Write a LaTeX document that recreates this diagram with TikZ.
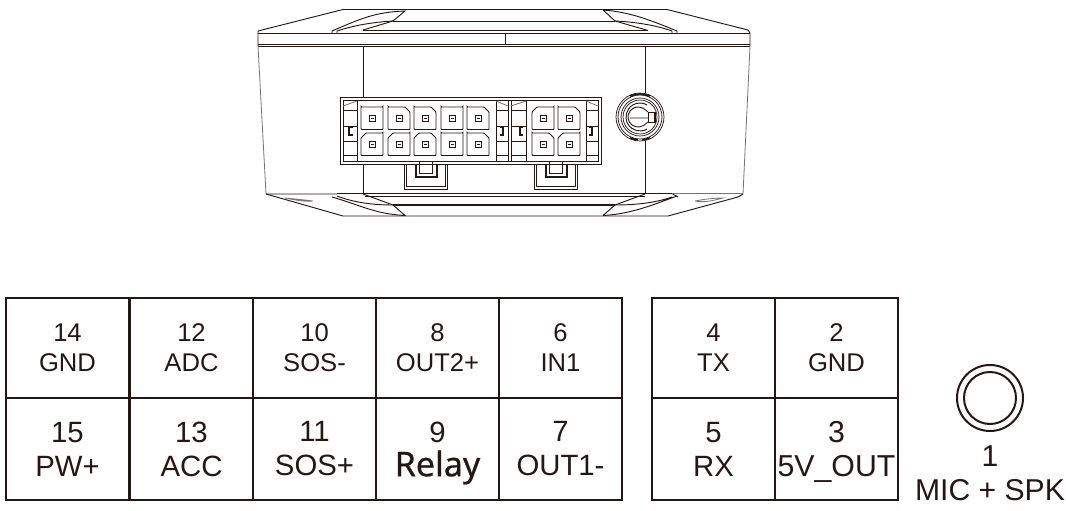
\documentclass[tikz,border=0pt]{standalone}
\usepackage{fontspec}
\setmainfont{Liberation Sans}
\newfontfamily\relayfont[RawFeature={embolden=.6}]{Noto Sans}
\usetikzlibrary{positioning}
\definecolor{inkdark}{HTML}{231815}
\tikzset{
  pincell/.style={draw=inkdark,text=inkdark,line width=2.2pt,minimum width=92.25pt,inner sep=0pt,outer sep=0pt,anchor=north west},
  toptext/.style={minimum height=75pt,font=\fontsize{19.2}{22.5}\selectfont,align=center},
  lowtext/.style={minimum height=76.5pt,font=\fontsize{22}{25.5}\selectfont,align=center},
  body/.style={line width=.7pt,inkdark},
  thin gray/.style={line width=.6pt,black!55},
  pinhole/.style={line width=.7pt,inkdark,rounded corners=.5pt}
}
% one pin of the connector: x, y and the corners that are cut
\newcommand{\pinbox}[4]{%
  \draw[pinhole] (#1+#3,#2) -- (#1+22-#4,#2) -- (#1+22,#2+#4) -- (#1+22,#2+22.5) -- (#1,#2+22.5) -- (#1,#2+#3) -- cycle;
  \draw[line width=.6pt,inkdark] (#1+8,#2+8) rectangle (#1+14,#2+14.5) (#1+9.5,#2+11.2) -- (#1+12.5,#2+11.2);
}
\begin{document}
\begin{tikzpicture}[x=.75pt,y=-.75pt]
  \useasboundingbox (0,0) rectangle (1066,510);
  % housing
  \draw[body] (258,33) -- (750,33) (258,44.3) -- (750,44.3) (258,46.3) -- (750,46.3);
  \draw[body] (258,46) -- (258,31) -- (343,9.5) -- (667,9.5) -- (748,30) -- (750,33) -- (750,46);
  \draw[thin gray] (258,46) -- (266,194) (750,46) -- (743,194);
  \draw[body] (266,194) -- (343,216) -- (668,216) -- (738,197) -- (743,194);
  \draw[body] (393,21) -- (615,21) (363,30.5) -- (648,30.5) (505,33) -- (505,45);
  % upper grips
  \draw[body] (332,31) .. controls (360,19) and (375,12) .. (405,11) -- (393,21) .. controls (375,22) and (355,25) .. (337,31);
  \draw[body] (363,30) -- (393,21) (332,31) -- (332,33) (337,31) -- (337,33);
  \draw[body] (603,10) .. controls (630,12) and (650,20) .. (677,31) (603,10) -- (615,21) .. controls (635,22) and (655,25) .. (672,31);
  \draw[body] (615,21) -- (648,30.5) (672,31) -- (672,33) (677,31) -- (677,33);
  % lower grips
  \draw[body] (332,197) .. controls (360,205) and (375,214) .. (405,215.5) -- (393,205) .. controls (375,205) and (355,203) .. (337,196);
  \draw[body] (363,194) -- (393,205);
  \draw[body] (603,215.5) .. controls (630,214) and (650,206) .. (677,196) (603,215.5) -- (615,205) .. controls (635,205) and (655,203) .. (672,197);
  \draw[body] (615,205) -- (645,194);
  \draw[body] (337,193.5) -- (672,193.5) (365,196.5) -- (645,196.5) (672,193.5) -- (678,197) (266,194) -- (337,194);
  \draw[line width=1.6pt,inkdark] (393,205) -- (615,205);
  \draw[thin gray] (672,193.5) -- (743,193.5);
  \draw[thin gray] (285,198) .. controls (295,199) and (305,200) .. (313,201) .. controls (305,202) and (295,200) .. (285,198);
  \draw[thin gray] (695,201) .. controls (705,199) and (715,198) .. (723,198) .. controls (715,200) and (705,203) .. (695,201);
  \draw[body] (363,46) -- (363,98) (363,164) -- (363,194) (645,46) -- (645,93) (645,141) -- (645,194);
  % connector outline
  \draw[line width=.55pt,inkdark] (340,97.5) rectangle (601,164.5) (343,100.5) rectangle (598,161.5);
  \draw[line width=.55pt,inkdark] (508,100) -- (508,162) (511,100) -- (511,162);
  \draw[line width=.55pt,inkdark] (357,100.5) rectangle (496,161.5) (526,100.5) rectangle (586,161.5);
  \foreach \xa/\xb in {343/357,496/508,511/526,586/598}{
    \foreach \yy in {110,126,141,155}{
      \draw[line width=.55pt,inkdark] (\xa,\yy) -- (\xb,\yy);
    }
  }
  \draw[thin gray] (343,106) -- (357,101) (496,101) -- (508,106) (511,106) -- (526,101) (586,101) -- (598,106);
  \draw[line width=.8pt,inkdark] (353,127) -- (349,127) -- (349,135) -- (353,135);
  \draw[line width=.8pt,inkdark] (500,127) -- (503,127) -- (503,135) -- (500,135);
  \draw[line width=.8pt,inkdark] (523,127) -- (520,127) -- (520,135) -- (523,135);
  \draw[line width=.8pt,inkdark] (589,127) -- (592,127) -- (592,135) -- (589,135);
  % pins
  \foreach \px/\py/\cl/\cr in {361/107/0/0,388/107/0/5,414/107/0/5,441/107/0/0,467/107/0/5,
    361/133/5/0,388/133/5/0,414/133/5/5,441/133/0/0,467/133/0/5,
    532/107/5/0,558/107/0/5,532/133/0/5,558/133/5/0}{
    \pinbox{\px}{\py}{\cl}{\cr}
  }
  % latches
  \foreach \lx in {404,534}{
    \draw[line width=.7pt,inkdark] (\lx,164) -- (\lx,189) -- (\lx+43,189) -- (\lx+43,164);
    \draw[line width=.7pt,inkdark] (\lx+2,164) -- (\lx+2,186.5) -- (\lx+41,186.5) -- (\lx+41,164);
    \draw[line width=1pt,inkdark] (\lx+12,164) -- (\lx+12,177) -- (\lx+33,177) -- (\lx+33,164);
    \draw[line width=.6pt,inkdark] (\lx+15,162) -- (\lx+15,173) -- (\lx+28,173) -- (\lx+28,162);
  }
  % knob
  \foreach \rr in {24,22,19,17}{
    \draw[line width=.55pt,inkdark] (640,117) circle[radius=\rr];
  }
  \draw[line width=1.2pt,inkdark] (640,117) ++(65:23) arc[start angle=65,end angle=85,radius=23] (640,117) ++(95:23) arc[start angle=95,end angle=115,radius=23];
  \draw[line width=1.2pt,inkdark] (640,117) ++(245:23) arc[start angle=245,end angle=295,radius=23];
  \draw[line width=.7pt,inkdark] (640,117) ++(60:14) arc[start angle=60,end angle=300,radius=14];
  \draw[line width=.7pt,inkdark] (638,117) ++(60:10) arc[start angle=60,end angle=300,radius=10];
  \draw[line width=.6pt,inkdark] (630,118) -- (648,118) (643,108) -- (648,112) (643,126) -- (648,122);
  \draw[line width=.7pt,inkdark] (648,112) rectangle (655,122);
  \draw[line width=1.4pt,inkdark] (654.5,112) -- (654.5,122);
  % pin table
  \foreach \cx/\cy/\rowstyle/\name/\num/\txt in {6/298/toptext/t14/14/GND,130/298/toptext/t12/12/ADC,253/298/toptext/t10/10/SOS-,
    376/298/toptext/t8/8/OUT2+,499/298/toptext/t6/6/IN1,652/298/toptext/t4/4/TX,775/298/toptext/t2/2/GND,
    6/398/lowtext/t15/15/PW+,130/398/lowtext/t13/13/ACC,253/398/lowtext/t11/11/SOS+,
    499/398/lowtext/t7/7/OUT1-,652/398/lowtext/t5/5/RX}{
    \node[pincell,\rowstyle] (\name) at (\cx,\cy) {\num\\\txt};
  }
  \node[pincell,lowtext] (t9) at (376,398) {9\\\smash{\fontsize{25.5}{25.5}\relayfont Relay}};
  \node[pincell,lowtext,font=\fontsize{22.7}{25.5}\selectfont] (t3) at (775,398) {3\\\smash{5V\_OUT}};
  % mic socket
  \node[draw=inkdark,circle,line width=1.5pt,minimum size=49.5pt,inner sep=0pt] (mic) at (990,398) {};
  \node[draw=inkdark,circle,line width=1.5pt,minimum size=39pt,inner sep=0pt] (micin) at (mic) {};
  \node[text=inkdark,font=\fontsize{22.6}{25}\selectfont,align=center,below=7pt of mic] (miclabel) {1\\MIC + SPK};
\end{tikzpicture}
\end{document}
